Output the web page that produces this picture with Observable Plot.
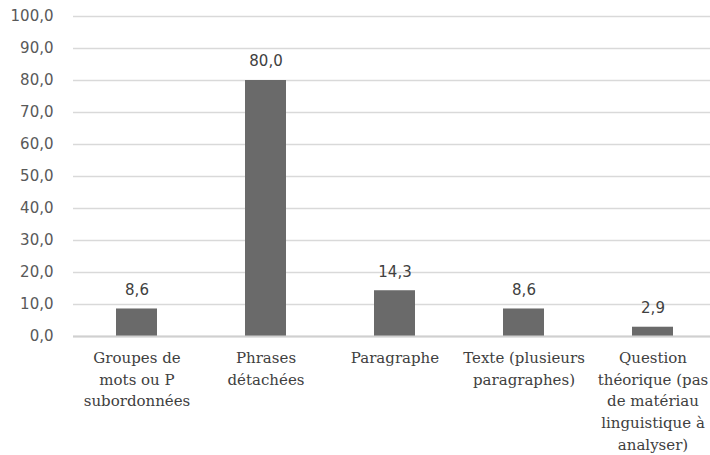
<!DOCTYPE html>
<html>
<head>
<meta charset="utf-8">
<script src="https://cdn.jsdelivr.net/npm/d3@7"></script>
<script src="https://cdn.jsdelivr.net/npm/@observablehq/plot@0.6"></script>
<style>
  html, body { margin: 0; padding: 0; background: #ffffff; overflow: hidden; }
</style>
</head>
<body>
<div id="chart"></div>
<script>
// Types de supports proposés (%)
const categories = [
  "Groupes de mots ou P subordonnées",
  "Phrases détachées",
  "Paragraphe",
  "Texte (plusieurs paragraphes)",
  "Question théorique (pas de matériau linguistique à analyser)"
];
const categoryLines = [
  "Groupes de\nmots ou P\nsubordonnées",
  "Phrases\ndétachées",
  "Paragraphe",
  "Texte (plusieurs\nparagraphes)",
  "Question\nthéorique (pas\nde matériau\nlinguistique à\nanalyser)"
];
const values = [8.6, 80.0, 14.3, 8.6, 2.9];
const yTicks = [0, 10, 20, 30, 40, 50, 60, 70, 80, 90, 100];

const data = categories.map((c, i) => ({category: c, label: categoryLines[i], value: values[i]}));
const frNum = d => d3.format(".1f")(d).replace(".", ",");

const sans = "'DejaVu Sans', sans-serif";
const serif = "'DejaVu Serif', serif";

const chart = Plot.plot({
  width: 710,
  height: 455,
  marginLeft: 73,
  marginRight: 0,
  marginTop: 16,
  marginBottom: 119,
  style: {background: "#ffffff", fontFamily: sans, overflow: "hidden"},
  x: {type: "band", domain: categories, range: [72, 718], paddingInner: 0.68, paddingOuter: 0.34, axis: null},
  y: {domain: [0, 100], axis: null},
  marks: [
    Plot.gridY(yTicks, {stroke: "#d9d9d9", strokeOpacity: 1, strokeWidth: 1.3}),
    Plot.axisY(yTicks, {
      label: null, tickSize: 0, tickPadding: 20, tickFormat: frNum,
      fontSize: 15, fill: "#595959", fontFamily: sans, style: "letter-spacing:1.5px"
    }),
    Plot.barY(data, {x: "category", y: "value", fill: "#6a6a6a"}),
    Plot.ruleY([0], {stroke: "#d0d0d0", strokeWidth: 2}),
    Plot.text(data, {
      x: "category", y: "value", text: d => frNum(d.value),
      dy: -19, fontSize: 15, fill: "#404040", fontFamily: sans, style: "letter-spacing:1.2px"
    }),
    Plot.text(data, {
      x: "category", text: "label", frameAnchor: "bottom", lineAnchor: "top",
      dy: 11, lineHeight: 1.45, fontSize: 15, fill: "#404040", fontFamily: serif
    })
  ]
});
document.getElementById("chart").appendChild(chart);
</script>
</body>
</html>
